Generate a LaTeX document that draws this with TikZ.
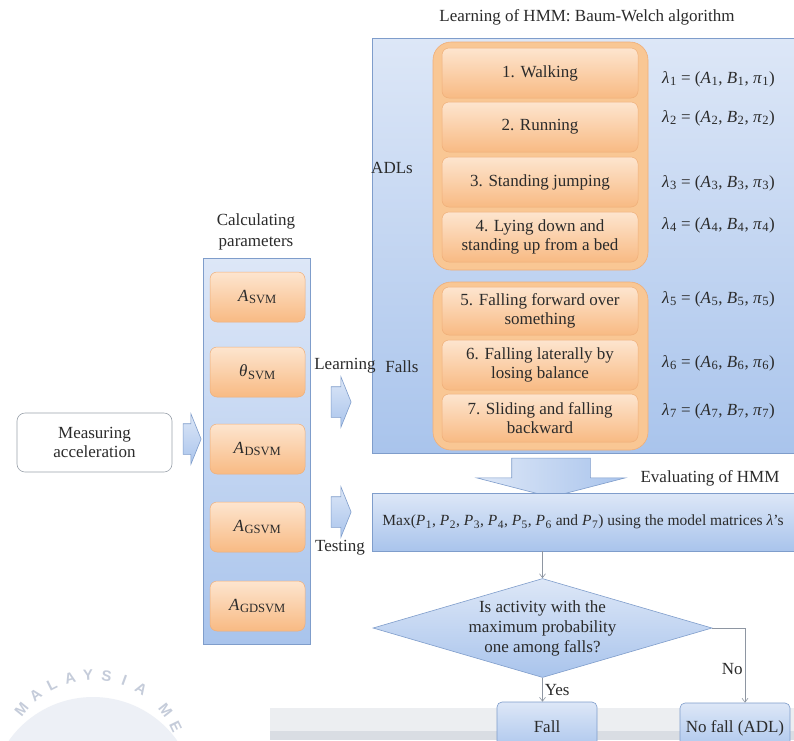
\documentclass[tikz,border=0pt]{standalone}
\usepackage{mathptmx}
\usepackage{fontspec}
\setmainfont{Liberation Serif}
\newfontfamily\wmfont{Liberation Sans}
\usetikzlibrary{shapes.geometric,shapes.arrows,shadings,arrows.meta}

\definecolor{txt}{HTML}{2B2B2B}
\definecolor{orTop}{HTML}{FDE5CF}
\definecolor{orBot}{HTML}{F8BA83}
\definecolor{orLine}{HTML}{EFAE78}
\definecolor{orGroup}{HTML}{F9C794}
\definecolor{blTop}{HTML}{DDE7F7}
\definecolor{blBot}{HTML}{A9C4EC}
\definecolor{blLine}{HTML}{7F9DCB}
\definecolor{connGray}{HTML}{8E96A2}
\definecolor{boxGray}{HTML}{9AA2AC}
\definecolor{bandLight}{HTML}{ECEEF1}
\definecolor{bandDark}{HTML}{D9DDE3}
\definecolor{wmText}{HTML}{C5CCDA}
\definecolor{wmDisc}{HTML}{EDF0F6}

% italic symbol with an index, set in the text font
\newcommand{\Idx}[2]{\textit{#1}\kern0.5pt\textsubscript{#2}}
% model parameters of one activity
\newcommand{\Model}[1]{\Idx{λ}{#1} = (\Idx{A}{#1}, \Idx{B}{#1}, \Idx{π}{#1})}

\begin{document}
\begin{tikzpicture}[x=1pt,y=-1pt,
  every node/.style={font=\fontsize{17}{19}\selectfont, text=txt},
  panel/.style={draw=blLine, line width=0.6pt, top color=blTop, bottom color=blBot,
    inner sep=0pt},
  orgroup/.style={draw=orLine, line width=0.6pt, fill=orGroup, rounded corners=18pt,
    minimum width=215pt, inner sep=0pt},
  orbox/.style={draw=orLine, line width=0.5pt, top color=orTop, bottom color=orBot,
    rounded corners=7pt, minimum width=196pt, minimum height=50pt, align=center,
    inner sep=1pt},
  parbox/.style={orbox, minimum width=95pt},
  blbox/.style={draw=blLine, line width=0.6pt, top color=blTop, bottom color=blBot,
    rounded corners=5pt, minimum height=50pt, align=center},
  blockarrow/.style={shape=single arrow, draw=blLine, line width=0.6pt,
    top color=blTop, bottom color=blBot, inner xsep=0pt, inner ysep=15pt,
    single arrow head extend=10pt, single arrow tip angle=136, minimum height=20pt},
  lam/.style={anchor=west, inner sep=0pt},
  conn/.style={draw=connGray, line width=0.6pt,
    -{Straight Barb[length=4pt,width=6pt]}},
  wm/.style={font=\wmfont\bfseries\fontsize{15}{15}\selectfont, text=wmText, inner sep=0pt}
]
\useasboundingbox (0,0) rectangle (794,740);
\clip (0,0) rectangle (794,740);
\fill[white] (0,0) rectangle (794,740);

% faint seal in the lower left corner
\fill[wmDisc] (93,800) circle[radius=103pt];
\foreach \ch/\ang [count=\i] in {M/141,A/128.5,L/116.5,A/104.5,Y/93,S/81.5,I/70,A/58.5,M/38,E/26}
  \node[wm, rotate={\ang-90}] (wm\i) at ({93+92*cos(\ang)},{767-92*sin(\ang)}) {\ch};

% grey strip along the bottom
\fill[bandLight] (270,708) rectangle (794,740);
\fill[bandDark] (270,731) rectangle (794,740);

% ---------- learning panel ----------
\node (title) at (587,17) {Learning of HMM: Baum-Welch algorithm};
\node[panel, minimum width=430pt, minimum height=415pt] (hmm) at (587,245.5) {};

\node[orgroup, minimum height=228pt] (adlgrp) at (540.5,156) {};
\node[orgroup, minimum height=168pt] (fallgrp) at (540.5,366) {};

\node[orbox] (a1) at (540,73) {1. Walking};
\node[orbox] (a2) at (540,127) {2. Running};
\node[orbox] (a3) at (540,182) {3. Standing jumping};
\node[orbox] (a4) at (540,237) {4. Lying down and\\standing up from a bed};
\node[orbox, minimum height=48pt] (a5) at (540,311) {5. Falling forward over\\something};
\node[orbox, minimum height=50pt] (a6) at (540,365) {6. Falling laterally by\\losing balance};
\node[orbox, minimum height=48pt] (a7) at (540,418) {7. Sliding and falling\\backward};

\node (adls) at (392,168) {ADLs};
\node (falls) at (402,367) {Falls};

\node[lam] (l1) at (662,79)  {\Model{1}};
\node[lam] (l2) at (662,118) {\Model{2}};
\node[lam] (l3) at (662,183) {\Model{3}};
\node[lam] (l4) at (662,225) {\Model{4}};
\node[lam] (l5) at (662,299) {\Model{5}};
\node[lam] (l6) at (662,363) {\Model{6}};
\node[lam] (l7) at (662,411) {\Model{7}};

% ---------- evaluation ----------
\node[shape=single arrow, draw=blLine, line width=0.6pt, left color=blTop, right color=blBot,
  inner xsep=0pt, inner ysep=39pt, single arrow head extend=35pt,
  single arrow tip angle=151, minimum height=39pt, rotate=-90] (down) at (551,472.5) {};
\node (evallbl) at (710,478) {Evaluating of HMM};
\node[panel, minimum width=422pt, minimum height=58pt,
  font=\fontsize{15.5}{19}\selectfont] (maxbar) at (583,522)
  {Max(\Idx{P}{1}, \Idx{P}{2}, \Idx{P}{3}, \Idx{P}{4}, \Idx{P}{5}, \Idx{P}{6} and \Idx{P}{7}) using the model matrices \textit{λ}'s};

\node[shape=diamond, draw=blLine, line width=0.6pt, top color=blTop, bottom color=blBot,
  aspect=3.42, minimum width=339pt, minimum height=99pt, inner sep=0pt, align=center,
  font=\fontsize{17}{20}\selectfont] (dec) at (542.5,628)
  {Is activity with the\\maximum probability\\one among falls?};

\node[blbox, minimum width=100pt] (fall) at (547,727) {Fall};
\node[blbox, minimum width=110pt] (nofall) at (735,728) {No fall (ADL)};

\draw[conn] (dec.north |- maxbar.south) -- (dec.north);
\draw[conn] (dec.south) -- (dec.south |- fall.north) node[midway, right, inner sep=2pt] {Yes};
\coordinate (nocorner) at (745,628);
\draw[conn] (dec.east) -- (nocorner) -- (nocorner |- nofall.north)
  node[pos=0.55, left, inner sep=2pt] {No};

% ---------- acceleration and parameters ----------
\node[draw=boxGray, line width=0.6pt, fill=white, rounded corners=8pt,
  minimum width=155pt, minimum height=59pt, align=center] (meas) at (94.5,442.5)
  {Measuring\\acceleration};
\node[blockarrow, minimum height=18pt] (measarr) at (189,439) {};

\node[align=center, font=\fontsize{17}{21}\selectfont] (calclbl) at (256,232) {Calculating\\parameters};
\node[panel, minimum width=107pt, minimum height=386pt] (calc) at (256.5,451) {};
\node[parbox] (p1) at (257.5,297) {\Idx{A}{SVM}};
\node[parbox] (p2) at (257.5,372) {\Idx{θ}{SVM}};
\node[parbox] (p3) at (257.5,449) {\Idx{A}{DSVM}};
\node[parbox] (p4) at (257.5,527) {\Idx{A}{GSVM}};
\node[parbox] (p5) at (257.5,606) {\Idx{A}{GDSVM}};

\node[blockarrow] (learnarr) at (338,402) {};
\node[blockarrow] (testarr) at (338,512) {};
\node (learnlbl) at (345,366) {Learning};
\node (testlbl) at (340,548) {Testing};
\end{tikzpicture}
\end{document}
